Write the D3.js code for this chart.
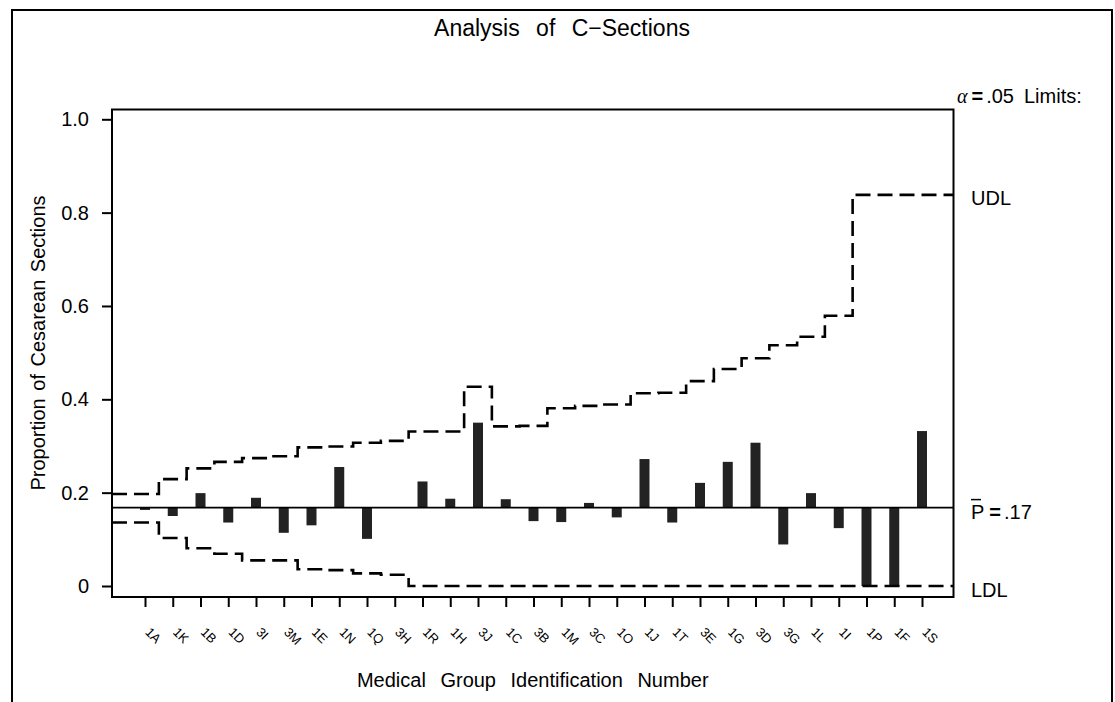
<!DOCTYPE html>
<html>
<head>
<meta charset="utf-8">
<script src="https://cdn.jsdelivr.net/npm/d3@7/dist/d3.min.js"></script>
<style>
  html, body { margin: 0; padding: 0; background: #fff; }
  svg { display: block; }
  text { font-family: "Liberation Sans", Arial, Helvetica, sans-serif; fill: #000; }
</style>
</head>
<body>
<svg id="chart" width="1115" height="702"></svg>
<script>
// Medical groups, in plotting order
const groups = ["1A","1K","1B","1D","3I","3M","1E","1N","1Q","3H","1R","1H","3J","1C",
                "3B","1M","3C","1O","1J","1T","3E","1G","3D","3G","1L","1I","1P","1F","1S"];

// Observed proportion of cesarean sections per group
const proportions = [0.163,0.150,0.199,0.136,0.189,0.114,0.130,0.255,0.101,0.168,
                     0.224,0.187,0.350,0.186,0.139,0.137,0.178,0.147,0.272,0.136,
                     0.221,0.266,0.307,0.089,0.199,0.124,0.000,0.000,0.332];

// Upper decision limits (alpha = .05)
const udl = [0.197,0.229,0.252,0.266,0.274,0.278,0.297,0.299,0.307,0.311,
             0.331,0.331,0.427,0.342,0.343,0.381,0.386,0.389,0.413,0.414,
             0.439,0.465,0.488,0.516,0.534,0.579,0.838,0.838,0.838];

// Lower decision limits (alpha = .05)
const ldl = [0.136,0.103,0.081,0.069,0.055,0.055,0.036,0.034,0.027,0.024,
             0,0,0,0,0,0,0,0,0,0,0,0,0,0,0,0,0,0,0];

// Overall proportion (center line)
const pBar = 0.168;

// Y axis tick values
const yTicks = [0, 0.2, 0.4, 0.6, 0.8, 1.0];

const svg = d3.select("#chart");

// Outer page border
svg.append("rect")
  .attr("x", 12).attr("y", 10).attr("width", 1100).attr("height", 720)
  .attr("fill", "none").attr("stroke", "#000").attr("stroke-width", 2);

// Plot frame
const frame = { left: 112, right: 953.5, top: 109.5, bottom: 597 };

const x = d3.scaleLinear().domain([0, groups.length - 1]).range([145, 922]);
const y = d3.scaleLinear().domain([0, 1]).range([586, 119.3]);

// Title
svg.append("text")
  .attr("x", 562).attr("y", 36)
  .attr("text-anchor", "middle")
  .style("font-size", "23px")
  .style("word-spacing", "10px")
  .text("Analysis of C\u2212Sections");

// Frame rectangle
svg.append("rect")
  .attr("x", frame.left).attr("y", frame.top)
  .attr("width", frame.right - frame.left).attr("height", frame.bottom - frame.top)
  .attr("fill", "none").attr("stroke", "#000").attr("stroke-width", 2);

// Y axis
const yAxis = svg.append("g")
  .attr("transform", `translate(${frame.left},0)`)
  .call(d3.axisLeft(y).tickValues(yTicks).tickSize(10).tickPadding(13)
        .tickFormat(d => d === 0 ? "0" : d3.format(".1f")(d)));
yAxis.select(".domain").remove();
yAxis.selectAll(".tick line").attr("stroke", "#000").attr("stroke-width", 2);
yAxis.selectAll(".tick text")
  .style("font-family", "'Liberation Sans', Arial, sans-serif")
  .style("font-size", "20px").attr("fill", "#000");

// X axis
const xAxis = svg.append("g")
  .attr("transform", `translate(0,${frame.bottom})`)
  .call(d3.axisBottom(x).tickValues(d3.range(groups.length)).tickSize(10)
        .tickFormat(i => groups[i]));
xAxis.select(".domain").remove();
xAxis.selectAll(".tick line").attr("stroke", "#000").attr("stroke-width", 2);
xAxis.selectAll(".tick text")
  .attr("y", 0).attr("dy", 0)
  .attr("text-anchor", "start")
  .attr("transform", "translate(-1,36) rotate(45)")
  .style("font-family", "'Liberation Sans', Arial, sans-serif")
  .style("font-size", "13px").attr("fill", "#000");

// Axis titles
svg.append("text")
  .attr("x", (frame.left + frame.right) / 2).attr("y", 687)
  .attr("text-anchor", "middle")
  .style("font-size", "20px").style("word-spacing", "9px")
  .text("Medical Group Identification Number");

svg.append("text")
  .attr("transform", "translate(45,343) rotate(-90)")
  .attr("text-anchor", "middle")
  .style("font-size", "20px").style("word-spacing", "2px")
  .text("Proportion of Cesarean Sections");

// Bars from the center line to each group's proportion
svg.append("g").selectAll("rect")
  .data(proportions)
  .join("rect")
  .attr("x", (d, i) => x(i) - 5)
  .attr("width", 10)
  .attr("y", d => Math.min(y(d), y(pBar)))
  .attr("height", d => Math.abs(y(d) - y(pBar)))
  .attr("fill", "#222");

// Center line
svg.append("line")
  .attr("x1", frame.left).attr("x2", frame.right)
  .attr("y1", y(pBar)).attr("y2", y(pBar))
  .attr("stroke", "#000").attr("stroke-width", 1.6);

// Stepped decision limits, running edge to edge of the frame
const leftIdx = x.invert(frame.left), rightIdx = x.invert(frame.right);
const stepLine = d3.line().x(d => x(d[0])).y(d => y(d[1])).curve(d3.curveStep);
function limitPoints(vals) {
  const pts = vals.map((v, i) => [i, v]);
  return [[leftIdx, vals[0]], ...pts, [rightIdx, vals[vals.length - 1]]];
}
[udl, ldl].forEach(vals => {
  svg.append("path")
    .attr("d", stepLine(limitPoints(vals)))
    .attr("fill", "none").attr("stroke", "#000")
    .attr("stroke-width", 2.6)
    .attr("stroke-dasharray", "15,7");
});

// Right-hand labels
const lx = 971;
const alphaLabel = svg.append("text").attr("x", 957).attr("y", 103).style("font-size", "20px");
alphaLabel.append("tspan").style("font-family", "'Liberation Serif', serif")
  .style("font-style", "italic").text("\u03b1");
alphaLabel.append("tspan").style("font-weight", "bold").attr("dx", 4).text("=");
alphaLabel.append("tspan").attr("dx", 3).text(".05");
alphaLabel.append("tspan").attr("dx", 10).text("Limits:");

svg.append("text").attr("x", lx).attr("y", y(udl[udl.length - 1]) + 10)
  .style("font-size", "20px").text("UDL");

svg.append("text").attr("x", lx).attr("y", y(ldl[ldl.length - 1]) + 11)
  .style("font-size", "20px").text("LDL");

const pLabel = svg.append("text").attr("x", lx).attr("y", y(pBar) + 11).style("font-size", "20px");
pLabel.append("tspan").text("P");
pLabel.append("tspan").style("font-weight", "bold").attr("dx", 5).text("=");
pLabel.append("tspan").attr("dx", 3).text(d3.format(".2f")(pBar).replace(/^0/, ""));
svg.append("line")
  .attr("x1", lx).attr("x2", lx + 10)
  .attr("y1", y(pBar) - 8).attr("y2", y(pBar) - 8)
  .attr("stroke", "#000").attr("stroke-width", 1.5);
</script>
</body>
</html>
